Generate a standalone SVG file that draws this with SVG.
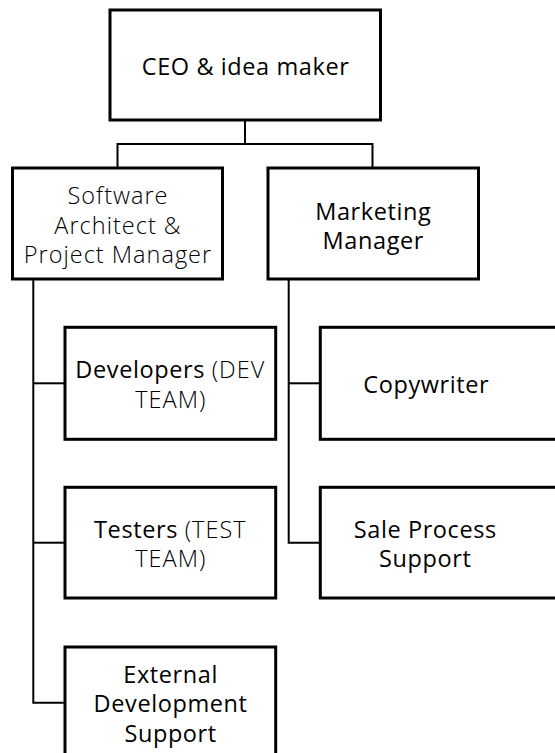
<svg xmlns="http://www.w3.org/2000/svg" width="555" height="753" viewBox="0 0 555 753">
  <style>
    .box { fill: #ffffff; stroke: #000000; stroke-width: 3; }
    .wire { fill: none; stroke: #000000; stroke-width: 2; }
    .lbl { font-family: "Open Sans", "Liberation Sans", sans-serif; font-size: 23.5px; letter-spacing: 0.6px; fill: #000000; text-anchor: middle; }
    .lt { font-weight: 300; letter-spacing: 1px; }
  </style>
  <rect width="555" height="753" fill="#ffffff"/>

  <!-- connectors -->
  <g id="connectors">
    <polyline class="wire" points="245,121 245,144"/>
    <polyline class="wire" points="117.5,167 117.5,144 372.5,144 372.5,167"/>
    <polyline class="wire" points="33.3,280 33.3,702.7 64,702.7"/>
    <line class="wire" x1="33.3" y1="383.3" x2="64" y2="383.3"/>
    <line class="wire" x1="33.3" y1="542.7" x2="64" y2="542.7"/>
    <polyline class="wire" points="288.7,280 288.7,542.7 320,542.7"/>
    <line class="wire" x1="288.7" y1="383.3" x2="320" y2="383.3"/>
  </g>

  <g id="ceo">
    <rect class="box" x="110" y="10" width="270.5" height="110"/>
    <text class="lbl" x="245.6" y="75">CEO &amp; idea maker</text>
  </g>

  <g id="software-architect">
    <rect class="box" x="12.5" y="168" width="210" height="111"/>
    <text class="lbl lt" x="118" y="204">Software</text>
    <text class="lbl lt" x="118" y="233.5">Architect &amp;</text>
    <text class="lbl lt" x="118" y="263">Project Manager</text>
  </g>

  <g id="marketing-manager">
    <rect class="box" x="268" y="168" width="210.5" height="111"/>
    <text class="lbl" x="373.3" y="219.5">Marketing</text>
    <text class="lbl" x="373.3" y="249">Manager</text>
  </g>

  <g id="developers">
    <rect class="box" x="65" y="327.3" width="210.7" height="112"/>
    <text class="lbl" x="170.3" y="378">Developers <tspan class="lt">(DEV</tspan></text>
    <text class="lbl lt" x="170.8" y="407.5">TEAM)</text>
  </g>

  <g id="testers">
    <rect class="box" x="65" y="487.3" width="210.7" height="110.7"/>
    <text class="lbl" x="170.3" y="537.5">Testers <tspan class="lt">(TEST</tspan></text>
    <text class="lbl lt" x="170.8" y="567">TEAM)</text>
  </g>

  <g id="external-development">
    <rect class="box" x="65" y="647" width="210.7" height="120"/>
    <text class="lbl" x="170.6" y="682.5">External</text>
    <text class="lbl" x="170.6" y="712">Development</text>
    <text class="lbl" x="170.6" y="741.5">Support</text>
  </g>

  <g id="copywriter">
    <rect class="box" x="320.3" y="327.3" width="250" height="112"/>
    <text class="lbl" x="426.3" y="393.3">Copywriter</text>
  </g>

  <g id="sale-process-support">
    <rect class="box" x="320.3" y="487.3" width="250" height="110.7"/>
    <text class="lbl" x="425.3" y="537.8">Sale Process</text>
    <text class="lbl" x="425.3" y="567.3">Support</text>
  </g>
</svg>
